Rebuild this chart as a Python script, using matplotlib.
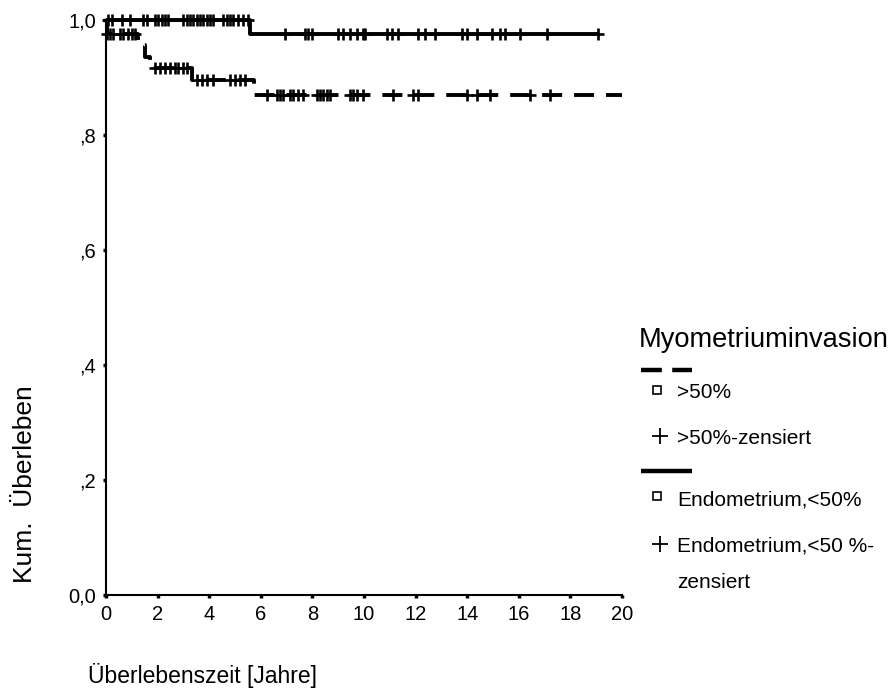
import numpy as np
import matplotlib
matplotlib.use("Agg")
import matplotlib.pyplot as plt
from matplotlib.lines import Line2D

plt.rcParams['font.family'] = ['Liberation Sans', 'DejaVu Sans']
plt.rcParams['lines.scale_dashes'] = False

# ---- data ----
# Endometrium, <50% (solid)
upper_times = [0.0, 5.6, 19.07]
upper_surv = [1.0, 0.976, 0.976]
upper_censor = [0.08, 0.23, 0.62, 0.93, 1.43, 1.59, 1.90, 2.02, 2.17, 2.29, 2.40,
                2.98, 3.14, 3.26, 3.37, 3.53, 3.64, 3.76, 3.91, 4.03, 4.15, 4.53,
                4.69, 4.81, 4.92, 5.12, 5.31, 5.50, 6.94, 7.71, 7.83, 7.98, 8.99,
                9.19, 9.46, 9.73, 9.96, 10.04, 10.89, 11.09, 11.32, 12.09, 12.36,
                12.75, 13.8, 13.99, 14.38, 14.96, 15.27, 15.47, 16.05, 17.09, 19.07]

# >50% (dashed)
lower_times = [0.0, 0.03, 1.25, 1.5, 1.7, 3.35, 5.75, 20.0]
lower_surv = [1.0, 0.975, 0.956, 0.936, 0.916, 0.895, 0.870, 0.870]
lower_censor = [0.04, 0.16, 0.27, 0.54, 0.66, 0.85, 1.0, 1.12, 1.9, 2.09, 2.29,
                2.48, 2.67, 2.79, 2.98, 3.14, 3.53, 3.72, 3.91, 4.15, 4.81, 5.0,
                5.19, 5.39, 6.24, 6.63, 6.74, 6.86, 7.13, 7.25, 7.44, 7.64, 8.18,
                8.29, 8.41, 8.57, 8.68, 9.46, 9.57, 9.73, 9.96, 11.12, 11.9, 12.09,
                13.99, 14.38, 14.88, 16.43, 17.2]

x_ticks = [0, 2, 4, 6, 8, 10, 12, 14, 16, 18, 20]
y_ticks = [0.0, 0.2, 0.4, 0.6, 0.8, 1.0]
y_ticklabels = ['0,0', ',2', ',4', ',6', ',8', '1,0']

legend_title = 'Myometriuminvasion'
legend_labels = ['>50%', '>50%-zensiert', 'Endometrium,<50%', 'Endometrium,<50 %-', 'zensiert']

W, H = 895, 695
fig = plt.figure(figsize=(W / 100, H / 100), dpi=100)
ax = fig.add_axes([106 / W, 1 - 595 / H, 516 / W, 575 / H])


def surv_at(times, surv, t):
    idx = np.searchsorted(np.asarray(times), np.asarray(t), side='right') - 1
    return np.asarray(surv)[idx]


lw = 2.8
ax.step(upper_times, upper_surv, where='post', color='black', lw=lw, clip_on=False,
        solid_capstyle='butt')
ax.plot(upper_censor, surv_at(upper_times, upper_surv, upper_censor), ls='none',
        marker='+', ms=9, mew=1.9, color='black', clip_on=False)

ax.step(lower_times, lower_surv, where='post', color='black', lw=lw, clip_on=False,
        dashes=(14.4, 8.6), dash_capstyle='butt')
ax.plot(lower_censor, surv_at(lower_times, lower_surv, lower_censor), ls='none',
        marker='+', ms=9, mew=1.9, color='black', clip_on=False)

ax.set_xlim(0, 20)
ax.set_ylim(0, 1.0)
for s in ['top', 'right']:
    ax.spines[s].set_visible(False)
for s in ['left', 'bottom']:
    ax.spines[s].set_linewidth(1.5)
ax.set_xticks(x_ticks)
ax.set_xticklabels([str(v) for v in x_ticks])
ax.set_yticks(y_ticks)
ax.set_yticklabels(y_ticklabels)
ax.tick_params(direction='out', length=2.2, width=2.5, labelsize=14.5, pad=5)

# axis labels
fig.text(88 / W, 1 - 675 / H, 'Überlebenszeit [Jahre]', fontsize=16.5, ha='left', va='center')
fig.text(25 / W, 1 - 484 / H, 'Kum.  Überleben', fontsize=19, rotation=90, ha='center', va='center')

# manual legend
def fx(x):
    return x / W


def fy(y):
    return 1 - y / H


fig.text(fx(639), fy(340), legend_title, fontsize=19.6, ha='left', va='center')
fig.add_artist(Line2D([fx(641), fx(692)], [fy(370), fy(370)], transform=fig.transFigure,
                      color='black', lw=3.2, dashes=(15, 7.5), dash_capstyle='butt'))
fig.add_artist(Line2D([fx(657)], [fy(390)], transform=fig.transFigure, marker='s', ms=6,
                      mfc='white', mec='black', mew=1.2, ls='none'))
fig.text(fx(677), fy(392), legend_labels[0], fontsize=15, ha='left', va='center')
fig.add_artist(Line2D([fx(660)], [fy(436)], transform=fig.transFigure, marker='+', ms=11,
                      mec='black', mew=1.3, ls='none'))
fig.text(fx(677), fy(438), legend_labels[1], fontsize=15, ha='left', va='center')
fig.add_artist(Line2D([fx(641), fx(692)], [fy(471), fy(471)], transform=fig.transFigure,
                      color='black', lw=3.2, solid_capstyle='butt'))
fig.add_artist(Line2D([fx(657)], [fy(496)], transform=fig.transFigure, marker='s', ms=6,
                      mfc='white', mec='black', mew=1.2, ls='none'))
fig.text(fx(677), fy(500), legend_labels[2], fontsize=15, ha='left', va='center')
fig.add_artist(Line2D([fx(660)], [fy(544)], transform=fig.transFigure, marker='+', ms=11,
                      mec='black', mew=1.3, ls='none'))
fig.text(fx(677), fy(546), legend_labels[3], fontsize=15, ha='left', va='center')
fig.text(fx(677), fy(582), legend_labels[4], fontsize=15, ha='left', va='center')

fig.savefig('out.png', dpi=100)
